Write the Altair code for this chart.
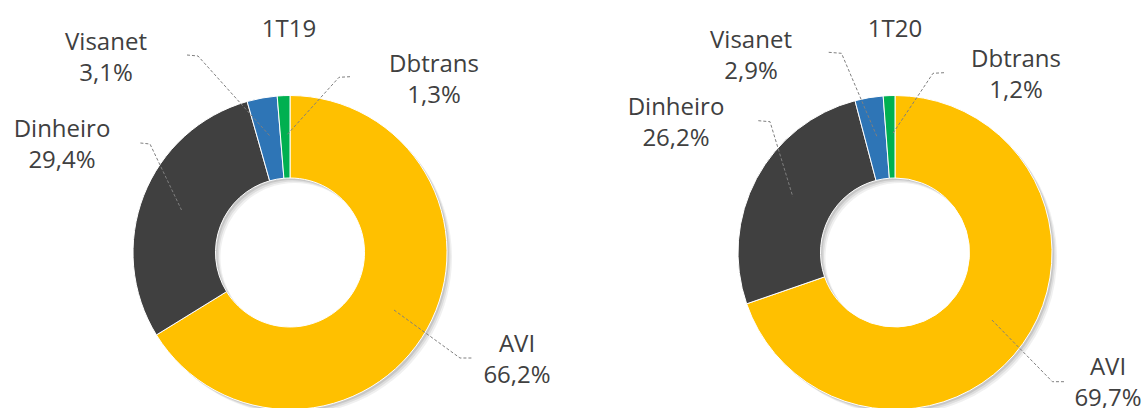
import altair as alt
import pandas as pd

# ---- data ----
periods = ["1T19", "1T20"]
categories = ["AVI", "Dinheiro", "Visanet", "Dbtrans"]
values_1t19 = [66.2, 29.4, 3.1, 1.3]
values_1t20 = [69.7, 26.2, 2.9, 1.2]
colors = ["#FFC000", "#404040", "#2E75B6", "#00B050"]

# ---- layout (pixels) ----
W, H = 1144, 408
centers_x = [290, 895]
center_y = 252.5
R_OUT, R_IN = 157, 74.5
FONT = "Open Sans"
TXT = "#404040"
LINE_GAP = 31

# label anchor: (x centre, baseline of name line), per period, per category
label_pos = {
    "1T19": {"AVI": (517, 352), "Dinheiro": (62, 137), "Visanet": (106, 50), "Dbtrans": (434, 72)},
    "1T20": {"AVI": (1108, 375), "Dinheiro": (676, 115), "Visanet": (751, 48), "Dbtrans": (1016, 67)},
}
title_pos = {"1T19": (289, 37), "1T20": (895, 37)}
leaders = {
    "1T19": {
        "Visanet": [(187, 55), (198, 56), (270.6, 136.7)],
        "Dbtrans": [(350, 76.7), (339, 77.3), (286.8, 135)],
        "Dinheiro": [(140.4, 143), (150, 144), (181.5, 210)],
        "AVI": [(394, 310), (460, 358), (473, 358)],
    },
    "1T20": {
        "Visanet": [(828.7, 52.3), (841.5, 53.3), (877, 136.7)],
        "Dbtrans": [(944, 72.7), (933, 73.3), (891.8, 135)],
        "Dinheiro": [(758.3, 120.7), (770, 121.7), (792.8, 196.7)],
        "AVI": [(991.9, 320), (1052.4, 381.7), (1065.2, 381.7)],
    },
}

xs = alt.Scale(domain=[0, W], nice=False, zero=False)
ys = alt.Scale(domain=[0, H], nice=False, zero=False, reverse=True)

def fmt(v):
    return f"{v:.1f}".replace(".", ",") + "%"

layers = []
series = {"1T19": values_1t19, "1T20": values_1t20}
text_rows = []
line_rows = []
for p, cx in zip(periods, centers_x):
    vals = series[p]
    df = pd.DataFrame({"category": categories, "value": vals, "idx": range(len(categories))})
    base = alt.Chart(df).encode(
        theta=alt.Theta("value:Q", stack=True),
        order=alt.Order("idx:Q"),
    )
    # soft shadow
    for off, op in [(5, 0.06), (3.5, 0.08), (2, 0.1)]:
        layers.append(
            base.mark_arc(outerRadius=R_OUT, innerRadius=R_IN, color="#000000", opacity=op)
            .encode(x=alt.value(cx + off), y=alt.value(center_y + off))
        )
    layers.append(
        base.mark_arc(outerRadius=R_OUT, innerRadius=R_IN, stroke="#ffffff", strokeWidth=1)
        .encode(
            color=alt.Color("category:N", scale=alt.Scale(domain=categories, range=colors), legend=None),
            x=alt.value(cx),
            y=alt.value(center_y),
        )
    )
    tx, ty = title_pos[p]
    text_rows.append({"x": tx, "y": ty, "t": p})
    for c, v in zip(categories, vals):
        lx, ly = label_pos[p][c]
        text_rows.append({"x": lx, "y": ly, "t": c})
        text_rows.append({"x": lx, "y": ly + LINE_GAP, "t": fmt(v)})
        for i, (px, py) in enumerate(leaders[p][c]):
            line_rows.append({"x": px, "y": py, "key": p + c, "seq": i})

lines = alt.Chart(pd.DataFrame(line_rows)).mark_line(
    color="#7f7f7f", strokeWidth=1, strokeDash=[3, 2]
).encode(
    x=alt.X("x:Q", scale=xs, axis=None),
    y=alt.Y("y:Q", scale=ys, axis=None),
    detail="key:N",
    order="seq:Q",
)

texts = alt.Chart(pd.DataFrame(text_rows)).mark_text(
    font=FONT, fontSize=24, color=TXT, align="center", baseline="alphabetic"
).encode(
    x=alt.X("x:Q", scale=xs, axis=None),
    y=alt.Y("y:Q", scale=ys, axis=None),
    text="t:N",
)

chart = (
    alt.layer(*layers, lines, texts)
    .resolve_scale(theta="independent")
    .properties(width=W, height=H, padding=0, autosize=alt.AutoSizeParams(type="none"), background="#ffffff")
    .configure_view(stroke=None)
)

chart.save("out.html", embed_options={"renderer": "svg", "actions": False})
